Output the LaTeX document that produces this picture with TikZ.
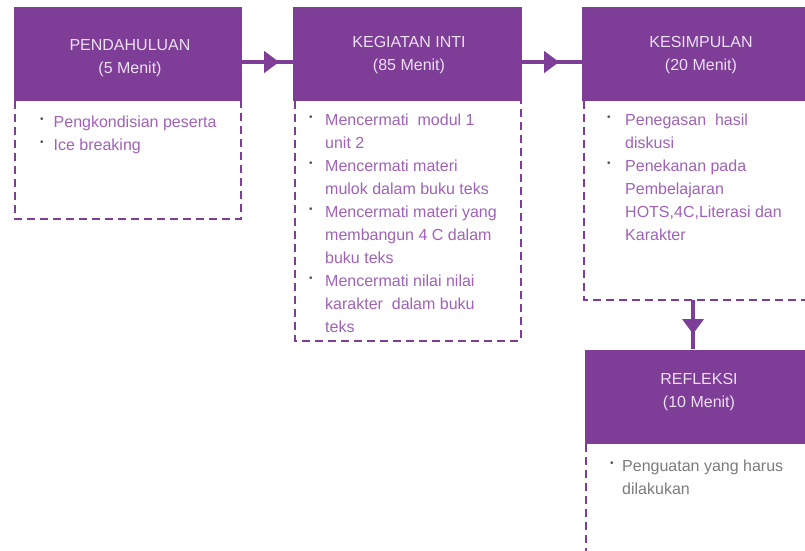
\documentclass[tikz,border=0pt]{standalone}
\usepackage{fontspec}
\setmainfont{Liberation Sans}
\usetikzlibrary{arrows.meta,decorations.markings}

\definecolor{plum}{HTML}{7E3E97}
\definecolor{plumtext}{HTML}{A062B8}
\definecolor{lav}{HTML}{ECDFF1}
\definecolor{dotgray}{HTML}{555555}
\definecolor{greytext}{HTML}{7C7C7C}

% small raised bullet hung to the left of the item text
\newcommand{\bul}[1][10pt]{\llap{\textcolor{dotgray}{\raisebox{5pt}{\fontsize{10}{10}\selectfont •}}\hspace{#1}}}

\begin{document}
\begin{tikzpicture}[x=1pt,y=-1pt,
  head/.style={rectangle, fill=plum, draw=none, minimum height=94pt, inner sep=0pt},
  titletext/.style={text=lav, align=center, inner sep=0pt, font=\fontsize{16}{23}\selectfont},
  bodytext/.style={text=plumtext, align=left, inner sep=0pt, font=\fontsize{16}{23}\selectfont},
  dashframe/.style={draw=plum, line width=1.8pt, dash pattern=on 8pt off 5pt},
  conn/.style={draw=plum, line width=4pt, postaction={decorate},
    decoration={markings, mark=at position #1 with {\arrow[plum]{Triangle[length=15pt,width=21pt]}}}}
]
\useasboundingbox (0,0) rectangle (805,550);
\clip (0,0) rectangle (805,550);
\fill[white] (0,0) rectangle (805,550);

% header blocks
\node[head, minimum width=228pt] (h1) at (128,54) {};
\node[head, minimum width=229pt] (h2) at (407.5,53.5) {};
\node[head, minimum width=238pt] (h3) at (701,53.5) {};
\node[head, minimum width=228pt] (h4) at (699,396.5) {};

% header titles (anchored on the baseline of the last line)
\node[titletext, anchor=base] (t1) at (130,73) {PENDAHULUAN\\(5 Menit)};
\node[titletext, anchor=base] (t2) at (409,70) {KEGIATAN INTI\\(85 Menit)};
\node[titletext, anchor=base] (t3) at (701,70) {KESIMPULAN\\(20 Menit)};
\node[titletext, anchor=base] (t4) at (699,407) {REFLEKSI\\(10 Menit)};

% dashed frames below the headers
\draw[dashframe] ([xshift=1.5pt]h1.south west) -- ++(0,118) -| ([xshift=-1.5pt]h1.south east);
\draw[dashframe] ([xshift=2.5pt]h2.south west) -- ++(0,240) -| ([xshift=-1.5pt]h2.south east);
\draw[dashframe] ([xshift=2pt]h3.south west) -- ++(0,199) -| ([xshift=-2pt]h3.south east);
\draw[dashframe] ([xshift=1.5pt]h4.south west) -- ++(0,130) -| ([xshift=-1.5pt]h4.south east);

% item lists (anchored on the baseline of the last line)
\node[bodytext, anchor=base west] (b1) at (53.5,150)
  {\bul[10pt]Pengkondisian peserta\\\bul[10pt]Ice breaking};
\node[bodytext, anchor=base west] (b2) at (325,332)
  {\bul[12.5pt]Mencermati\ \ modul 1\\
   unit 2\\
   \bul[12.5pt]Mencermati materi\\
   mulok dalam buku teks\\
   \bul[12.5pt]Mencermati materi yang\\
   membangun 4 C dalam\\
   buku teks\\
   \bul[12.5pt]Mencermati nilai nilai\\
   karakter\ \ dalam buku\\
   teks};
\node[bodytext, anchor=base west] (b3) at (625,240)
  {\bul[14.5pt]Penegasan\ \ hasil\\
   diskusi\\
   \bul[14.5pt]Penekanan pada\\
   Pembelajaran\\
   HOTS,4C,Literasi dan\\
   Karakter};
\node[bodytext, text=greytext, anchor=base west] (b4) at (622,494)
  {\bul[8.5pt]Penguatan yang harus\\
   dilakukan};

% connectors
\coordinate (k3) at (693,300);
\draw[conn=37pt] ([yshift=-8pt]h1.east) -- ([yshift=-8pt]h1.east -| h2.west);
\draw[conn=37pt] ([yshift=-8.5pt]h2.east) -- ([yshift=-8.5pt]h2.east -| h3.west);
\draw[conn=34pt] (k3) -- (k3 |- h4.north);
\end{tikzpicture}
\end{document}
